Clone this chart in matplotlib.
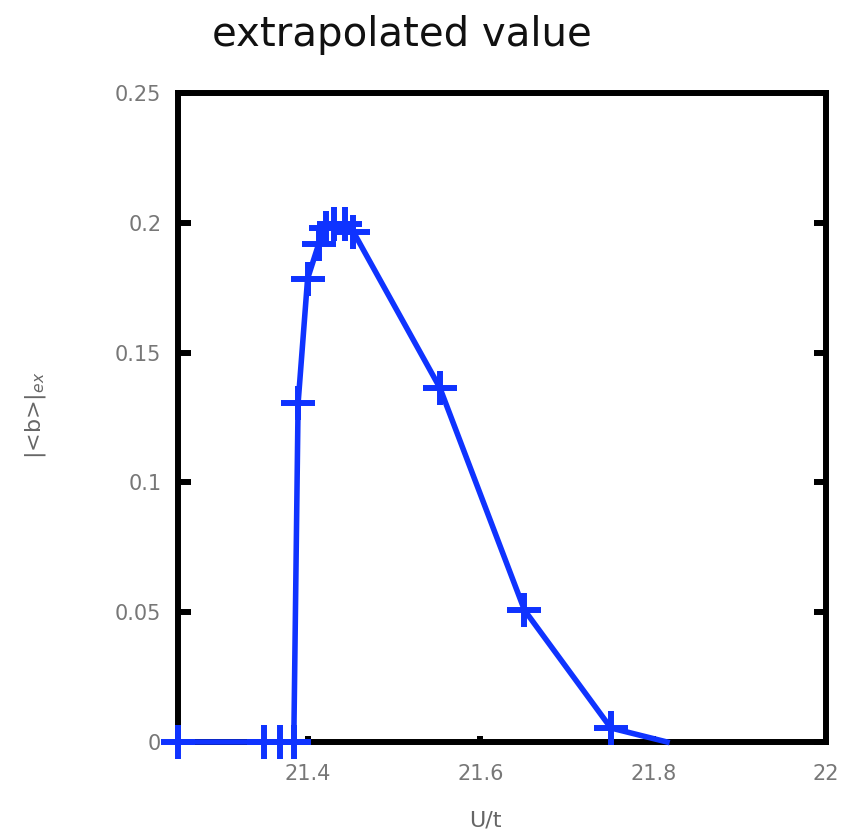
import matplotlib
matplotlib.use("Agg")
import matplotlib.pyplot as plt

# data
x_vals = [21.25, 21.350, 21.368, 21.384, 21.389, 21.400, 21.413, 21.421, 21.430, 21.443, 21.453,
          21.553, 21.651, 21.751, 21.816]
y_vals = [0.0, 0.0, 0.0, 0.0, 0.1305, 0.1785, 0.192, 0.198, 0.1996, 0.1996, 0.1965,
          0.1365, 0.0508, 0.0054, 0.0]
marker_idx = list(range(0, 14))

x_ticks = [21.4, 21.6, 21.8, 22.0]
x_ticklabels = ["21.4", "21.6", "21.8", "22"]
y_ticks = [0, 0.05, 0.1, 0.15, 0.2, 0.25]
y_ticklabels = ["0", "0.05", "0.1", "0.15", "0.2", "0.25"]

fig = plt.figure(figsize=(8.59, 8.38), dpi=100)
L, R, T, B = 178, 826, 93, 742
ax = fig.add_axes([L/859, 1-B/838, (R-L)/859, (B-T)/838])

ax.plot(x_vals, y_vals, color="#0f33ff", lw=4.0, marker="+", markersize=25,
        markeredgewidth=4.3, markevery=marker_idx, clip_on=False, zorder=3)

ax.set_xlim(21.25, 22.0)
ax.set_ylim(0, 0.25)
ax.set_xticks(x_ticks)
ax.set_xticklabels(x_ticklabels)
ax.set_yticks(y_ticks)
ax.set_yticklabels(y_ticklabels)

for s in ax.spines.values():
    s.set_linewidth(4.3)
    s.set_color("black")
ax.tick_params(axis="y", direction="in", length=9, width=4.3, left=True, right=True,
               labelsize=15, labelcolor="#777777", pad=12)
ax.tick_params(axis="x", direction="in", length=4, width=4.3, top=False, bottom=True,
               labelsize=15, labelcolor="#777777", pad=16)

ax.set_xlabel("U/t", fontsize=16, color="#666666")
ax.set_ylabel("|<b>|$_{ex}$", fontsize=16, color="#666666")
ax.xaxis.set_label_coords((485-L)/(R-L), -(820-B)/(B-T))
ax.yaxis.set_label_coords(-(L-35)/(R-L), (B-415)/(B-T))
ax.xaxis.label.set_va("center")
ax.yaxis.label.set_va("center")

fig.text(402/859, 1-35/838, "extrapolated value", ha="center", va="center",
         fontsize=29, color="#111111")

fig.savefig("out.png", dpi=100)
